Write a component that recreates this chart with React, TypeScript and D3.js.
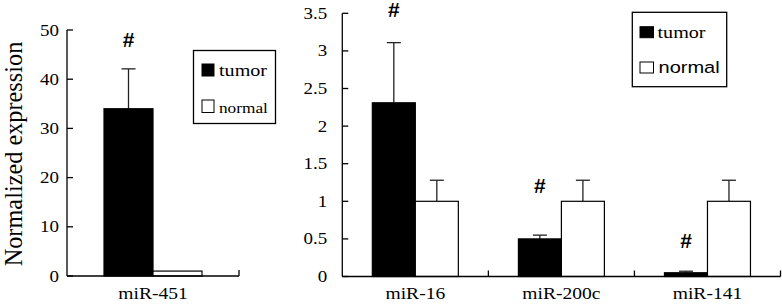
import React from "react";
import * as d3 from "d3";

// ---- data ----
const leftCategories = ["miR-451"];
const leftTumor = [34.0];
const leftTumorErr = [8.1];
const leftNormal = [1.0];
const leftNormalErr = [0];
const leftHashLevel = [46.5];
const leftTicks = [0, 10, 20, 30, 40, 50];

const rightCategories = ["miR-16", "miR-200c", "miR-141"];
const rightTumor = [2.31, 0.5, 0.05];
const rightTumorErr = [0.8, 0.05, 0.02];
const rightNormal = [1.0, 1.0, 1.0];
const rightNormalErr = [0.28, 0.28, 0.28];
const rightHashLevel = [3.45, 1.11, 0.38];
const rightTicks = [0, 0.5, 1, 1.5, 2, 2.5, 3, 3.5];

const seriesNames = ["tumor", "normal"];
const yTitle = "Normalized expression";

const SERIF = "'Liberation Serif', 'Times New Roman', serif";
const SANS = "'Liberation Sans', Arial, sans-serif";
const SX = 1.15;

function T({ x, y, children, anchor = "start", size = 16.5, family = SERIF, weight = "normal", sx = SX }: any) {
  return (
    <text
      transform={`translate(${x},${y}) scale(${sx},1)`}
      textAnchor={anchor}
      fontSize={size}
      fontFamily={family}
      fontWeight={weight}
      fill="#000"
    >
      {children}
    </text>
  );
}

function Panel({ cats, tumor, tumorErr, normal, normalErr, hash, ticks, xRange, yRange, yDomain, barW, tickOffset }: any) {
  const x = d3.scaleBand<string>().domain(cats).range(xRange).padding(0);
  const y = d3.scaleLinear().domain(yDomain).range(yRange);
  const sub = d3.scaleBand<string>().domain(seriesNames).range([-barW, barW]);
  const fmt = (v: number) => String(v);
  const y0 = y(0);
  const cap = 7;
  return (
    <g>
      {cats.map((c: string, i: number) => {
        const cx = (x(c) as number) + x.bandwidth() / 2;
        const vals = [tumor[i], normal[i]];
        const errs = [tumorErr[i], normalErr[i]];
        return (
          <g key={c}>
            {seriesNames.map((s, j) => {
              const bx = cx + (sub(s) as number);
              const top = y(vals[j]);
              const mx = bx + sub.bandwidth() / 2;
              return (
                <g key={s}>
                  {errs[j] > 0 && (
                    <g stroke="#222" strokeWidth={1.3}>
                      <line x1={mx} x2={mx} y1={top} y2={y(vals[j] + errs[j])} />
                      <line x1={mx - cap} x2={mx + cap} y1={y(vals[j] + errs[j])} y2={y(vals[j] + errs[j])} />
                    </g>
                  )}
                  <rect
                    x={bx}
                    y={top}
                    width={sub.bandwidth()}
                    height={y0 - top}
                    fill={j === 0 ? "#000" : "#fff"}
                    stroke="#000"
                    strokeWidth={1.2}
                  />
                </g>
              );
            })}
            <T x={cx + (sub("tumor") as number) + sub.bandwidth() / 2} y={y(hash[i])} anchor="middle" size={20} family={SANS} weight="bold" sx={1.05}>
              #
            </T>
            <T x={cx} y={298.5} anchor="middle" size={17}>
              {c}
            </T>
          </g>
        );
      })}
      <line x1={xRange[0]} x2={xRange[0]} y1={y(yDomain[1])} y2={y0} stroke="#000" strokeWidth={1.3} />
      <line x1={xRange[0]} x2={xRange[1]} y1={y0} y2={y0} stroke="#000" strokeWidth={1.3} />
      {ticks.map((t: number) => (
        <g key={t}>
          <line x1={xRange[0]} x2={xRange[0] + 6} y1={y(t)} y2={y(t)} stroke="#000" strokeWidth={1.3} />
          <T x={xRange[0] - tickOffset} y={y(t) + 5.5} anchor="end" size={16.5}>
            {fmt(t)}
          </T>
        </g>
      ))}
      {cats.map((c: string) => {
        const xe = (x(c) as number) + x.bandwidth();
        return <line key={c} x1={xe} x2={xe} y1={y0} y2={y0 - 6} stroke="#000" strokeWidth={1.3} />;
      })}
    </g>
  );
}

export default function App() {
  return (
    <svg width={782} height={305} style={{ position: "absolute", left: 0, top: 0, background: "#fff" }}>
      <rect x={0} y={0} width={782} height={305} fill="#fff" />
      <text
        transform={`translate(21.5,154) rotate(-90)`}
        textAnchor="middle"
        fontSize={24.3}
        fontFamily={SERIF}
        fill="#000"
      >
        {yTitle}
      </text>
      <Panel
        cats={leftCategories}
        tumor={leftTumor}
        tumorErr={leftTumorErr}
        normal={leftNormal}
        normalErr={leftNormalErr}
        hash={leftHashLevel}
        ticks={leftTicks}
        xRange={[67, 239]}
        yRange={[276, 30]}
        yDomain={[0, 50]}
        barW={49}
        tickOffset={8}
      />
      <Panel
        cats={rightCategories}
        tumor={rightTumor}
        tumorErr={rightTumorErr}
        normal={rightNormal}
        normalErr={rightNormalErr}
        hash={rightHashLevel}
        ticks={rightTicks}
        xRange={[342.3, 780.5]}
        yRange={[276.5, 13.3]}
        yDomain={[0, 3.5]}
        barW={43}
        tickOffset={15}
      />
      <g>
        <rect x={193.5} y={50.5} width={82} height={73} fill="#fff" stroke="#000" strokeWidth={1.3} />
        <rect x={202} y={64} width={12} height={12} fill="#000" stroke="#000" />
        <T x={219} y={76} size={17.5}>{seriesNames[0]}</T>
        <rect x={202} y={100} width={12} height={12.5} fill="#fff" stroke="#000" />
        <T x={219} y={112.5} size={15}>{seriesNames[1]}</T>
      </g>
      <g>
        <rect x={632.3} y={12.3} width={94.4} height={74.4} fill="#fff" stroke="#000" strokeWidth={1.3} />
        <rect x={640} y={26.7} width={13.5} height={11} fill="#000" stroke="#000" />
        <T x={657.5} y={37.7} size={17.5}>{seriesNames[0]}</T>
        <rect x={640} y={62} width={13.5} height={11} fill="#fff" stroke="#000" />
        <T x={658.5} y={72.7} size={17.4} family={SANS}>{seriesNames[1]}</T>
      </g>
    </svg>
  );
}
